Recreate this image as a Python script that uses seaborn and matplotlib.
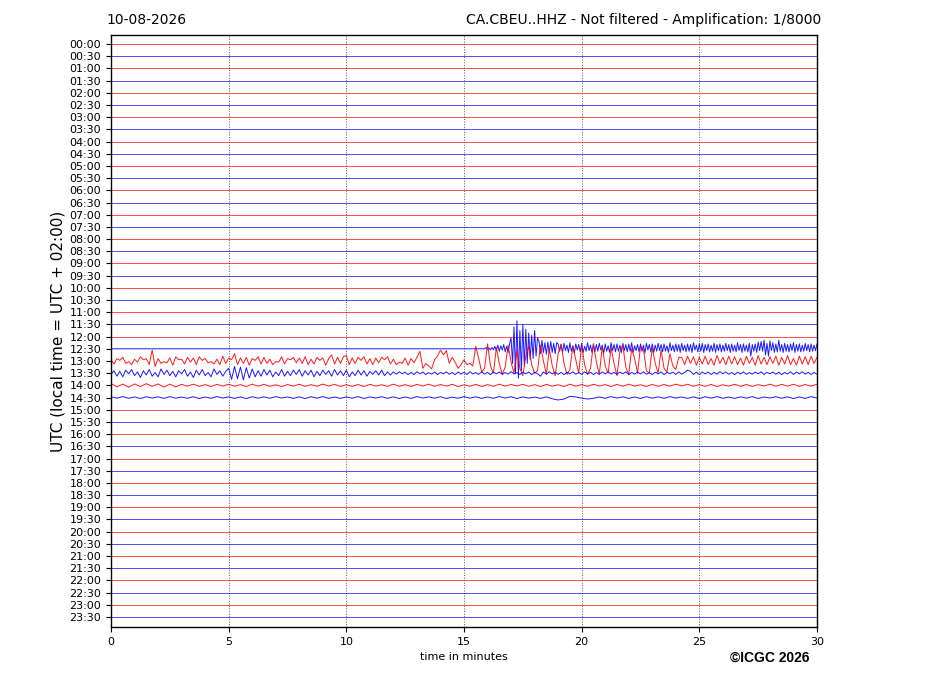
import numpy as np
import pandas as pd
import matplotlib
matplotlib.use("Agg")
import matplotlib.pyplot as plt
import seaborn as sns

# ---------------- data ----------------
date_label = "10-08-2026"
title_right = "CA.CBEU..HHZ - Not filtered - Amplification: 1/8000"
ylabel_text = "UTC (local time = UTC + 02:00)"
xlabel_text = "time in minutes"
copyright_text = "\u00a9ICGC 2026"

trace_labels = [f"{h:02d}:{m:02d}" for h in range(24) for m in (0, 30)]
trace_colors = ["#ff0000", "#0000ff"]          # alternate per trace
x_ticks = [0, 5, 10, 15, 20, 25, 30]
minutes_per_line = 30

# Active traces: amplitudes in hundredths of a trace spacing (positive = up)
# 12:30 (blue) starts at 15.875 min, step 0.0625 min
t25_start, t25_step = 15.875, 0.0625
t25_vals = [0, 10, -5, 8, -10, 12, -8,
            20, -15, 30, -20, 25, -10, 35, -25, 20, -30, 40,
            90, -120, 180, -200, 230, -240, 150, -180, 200, -140, 160, -120, 130, -90, 110, -80, 150, -60, 90,
            60, -40, 70, -30, 50, -45, 55, -35, 60, -30, 45, -40, 50,
            40, -20, 35, -25, 45, -15, 30, -30, 50, -20, 25, -35, 40, -10, 35, -25, 45, -30, 20, -20,
            50, -15, 30, -30, 40, -25, 35, -20, 45, -10, 30, -35, 40, -20, 25, -30, 50, -15, 35, -25,
            40, -20, 30, -30, 45, -15, 35, -25, 40, -20, 50, -30, 25, -15, 35, -25, 40, -20, 30, -35,
            45, -10, 35, -25, 40, -30, 30, -20, 45, -15, 35, -25, 40, -20, 25, -30, 50, -15, 30, -25,
            40, -20, 35, -30, 45, -15, 30, -25, 40, -20, 35, -30, 50, -10, 30, -25, 40, -20, 45, -30,
            35, -15, 40, -25, 30, -20, 45, -30, 35, -15,
            40, -25, 30, -20, 45, -15, 35, -30, 40, -20, 30, -25, 50, -15, 35, -30, 40, -20,
            30, -25, 45, -60, 35, -20, 40, -30, 55, -15,
            60, -20, 70, -50, 45, -60, 65, -15, 50, -30, 40, -25, 70, -20, 35, -30,
            45, -20, 35, -25, 40, -15, 50, -30, 35, -20, 40, -25, 30, -20, 45, -15, 35, -25, 40, -20, 30, -15, 40]

# 13:00 (red), step 0.125 min from 0
t26_step = 0.125
t26_vals = [10, -25, 20, 5, 30, -20, -5, -30, 15, -10, 35, 10, 20, -30,
            90, -45,
            20, -20, -5, -15, 25, -35, 35, 10, 15, -25, 30, -10, 25, -30, 35, 5, 20, -15, -5, -25, 15, -30, 40, -20, 25, 10,
            60, -30,
            25, -20, 30, -35, 20, 5, 35, -25, 30, -20, 15, -30, -5, -10, 35, -25, 20, 10, 30, -15, 25, -20, 35, -30, 15, -25, 30, 5, 25, -35, 20,
            50, -25, 30, -20, 35, 45, -30,
            25, -20, 30, 5, 35, -25, 20, -30, 25, -15, 30, 10, 35, -25, 15, -30, -10, -20, 25, -35, 20, -15,
            30, 80, -60, -20, -40, -65, 10, 40, 90, 50, 85, -20, 30, -10, -60, -30,
            10, -30, -20, -40,
            120, 20, -90, -60, 140, -40, -100, 110, -20, -110,
            -50, 130, -10, -100, 90, -60, -120, 40, 120, -30,
            -100, -80, 130, 0, -110, 100, -40, -120, 60, 140,
            -20, -110, -70, 120, 10, -100, 130, -30, -110, -60,
            140, -10, -110, 120, -40, -100, 110, -20, -120, 80,
            130, -50, -110, 100, 20, -100, 120,
            100, -80, -100, 110, -20, -100, 90, -60, -90, 60, -40, -70, 30,
            30, -30, 40, -20, 35, -35, 30, -25, 40, -30, 20, -35, 45, -20, 30, -30, 40, -25, 35, -30, 25, -35, 40, -20,
            30, -35, 45, -25, 30, -30, 35, -20, 40, -35, 30, -25, 45, -30, 20, -35, 40, -25, 35, -30, 40, -20, 30]

# 13:30 (blue), step 0.125 min from 0
t27_step = 0.125
t27_vals = [-10, 20, -25, 15, -30, 25, -5, 30, -20, 10, -35, 20, -15, 30, -25, 5, -30, 35, -10, 25,
            -20, 15, -30, 20, -5, 30, -25, 10, -35, 25, -15, 30, -20, 5, -30, 35, -10, 20, -25, 15,
            40, -50, 55, -45, 50, -55, 45, -40, 35, -30,
            20, -25, 30, -15, 25, -30, 10, -20, 30, -25, 15, -20, 25, -10, 30, -25, 20, -15, 25, -30, 15, -20, 25,
            -10, 20, -25, 30, -15, 20, -20, 25, -30, 10, -20, 25, -15, 20, -25, 15, -10, 20, -15, 25, -20, 10, -15,
            10, -8, 12, -5, 8, -12, 6, -10, 12, -6, 9, -11, 5, -8, 10, -12, 7, -5, 11, -9, 6, -12, 10, -7, 8,
            -10, 12, -6, 5, -9, 11, -8, 7, -12, 9, -5, 10, -10, 6, -8, 12, -7, 5, -11, 9, -6, 10, -12, 8, -5,
            -25, 10, -8, 12, -6, 9, -10, 7, -12, 8, -5, 11, -9, 6, -10, 12, -7, 8, -11, 5, -9, 10, -6, 12, -8,
            7, -10, 9, -5, 11, -12, 6, -8, 10, -7, 12, -9, 5, -11, 8, -6, 10, -12, 7, -5, 9, -10, 11, -8, 6,
            25, 15, -10, 8, -12, 10, -6, 9, -11, 7, -8, 12, -5, 10, -9, 6, -12, 8, -7, 11, -10, 5, -8, 9,
            -6, 12, -11, 7, -5, 10, -9, 8, -12, 6, -7, 11, -10, 9, -5, 12, -8, 7, -11, 6, -9]

# 14:00 (red), step 0.25 min
t28_step = 0.25
t28_vals = [15, -12, 10, -15, 12, -10, 14, -8, 12, -14, 10, -12,
            8, -6, 10, -8, 6, -10, 8, -5, 9, -7, 6, -9, 10, -6, 8, -8, 5, -10, 7, -6, 9, -8, 6, -7, 10, -5,
            8, -9, 6, -8, 7, -10, 9, -6, 5, -8, 10, -7, 6, -9, 8, -5, 10, -8, 7, -6, 9, -10, 5, -7, 8, -9,
            6, -8, 10, -6, 7, -5, 9, -8, 6, -10, 8, -7, 5, -9, 10, -6, 7, -8, 9, -5, 6, -10, 8, -7, 10, -6,
            5, -9, 8, -8, 7, -6, 10, -5, 9, -7, 6, -8, 8, -10, 5, -6, 9, -8, 7, -9, 6, -5, 10, -7, 8, -6, 9,
            -8, 7, -6, 9, -7, 8]

# 14:30 (blue), step 0.25 min
t29_step = 0.25
t29_vals = [6, -5, 8, -6, 5, -8, 7, -4, 6, -7, 8, -5, 4, -6, 7, -8, 5, -6, 8, -4, 6, -7, 5, -8, 7,
            -5, 6, -6, 8, -4, 5, -7, 6, -8, 7, -5, 8, -6, 4, -7, 6, -5, 8, -8, 5, -4, 7, -6, 6, -8,
            5, -7, 8, -4, 6, -5, 7, -8, 4, -6, 8, -5, 6, -7, 5, -6, 8, -4, 7, -8, 6, -5, 4, -7, 6,
            -10, -20, -12, 10, 5, -5, -12, -6,
            5, -6, 8, -4, 6, -7, 5, -8, 7, -5, 6, -6, 8, -4, 5, -7, 6, -8, 7, -5, 8, -6, 4, -7, 6,
            -5, 8, -8, 5, -4, 7, -6, 6, -8, 5, -7, 8, -4, 6, -5]

active = {
    25: (t25_start, t25_step, t25_vals),
    26: (0.0, t26_step, t26_vals),
    27: (0.0, t27_step, t27_vals),
    28: (0.0, t28_step, t28_vals),
    29: (0.0, t29_step, t29_vals),
}

# ---------------- plot ----------------
sns.set_style("ticks")
plt.rcParams["font.family"] = ["DejaVu Sans"]
for key in ("text.color", "axes.labelcolor", "xtick.color", "ytick.color", "axes.edgecolor"):
    plt.rcParams[key] = "black"

fig = plt.figure(figsize=(9.27, 6.96), dpi=100)
ax = fig.add_axes([111 / 927, 1 - 627 / 696, 706 / 927, 592 / 696])

for xv in x_ticks[1:-1]:
    ax.axvline(xv, color="#555555", linestyle=":", linewidth=0.7, zorder=0)

n = len(trace_labels)
for i, lab in enumerate(trace_labels):
    base = (n - 1) - i
    if i in active:
        t0, dt, vals = active[i]
        v = np.array(vals, dtype=float) / 100.0
        t = t0 + dt * np.arange(len(v))
        keep = t <= minutes_per_line + 1e-9
        t, v = t[keep], v[keep]
        if t0 > 0:
            t = np.concatenate([[0.0], t])
            v = np.concatenate([[0.0], v])
        lw, al = 0.7, 0.9
    else:
        t = np.array([0.0, minutes_per_line])
        v = np.array([0.0, 0.0])
        lw, al = 0.6, 0.8
    d = pd.DataFrame({"minute": t, "y": base + v})
    sns.lineplot(data=d, x="minute", y="y", color=trace_colors[i % 2],
                 estimator=None, sort=False, linewidth=lw, alpha=al, ax=ax)

ax.set_xlim(0, minutes_per_line)
ax.set_ylim(-0.82, n - 1 + 0.74)
ax.set_xticks(x_ticks)
ax.set_xticklabels([str(x) for x in x_ticks], fontsize=8)
ax.set_yticks([(n - 1) - i for i in range(n)])
ax.set_yticklabels(trace_labels, fontsize=8)
ax.tick_params(length=3.5, width=0.8, colors="black")
ax.set_xlabel(xlabel_text, fontsize=8)
ax.set_ylabel(ylabel_text, fontsize=11, labelpad=3)
for s in ax.spines.values():
    s.set_linewidth(1.0)
    s.set_color("black")

fig.text(106 / 927, 1 - 20 / 696, date_label, fontsize=10, va="center", ha="left")
fig.text(821 / 927, 1 - 20 / 696, title_right, fontsize=10, va="center", ha="right")
fig.text(770 / 927, 1 - 658 / 696, copyright_text, fontsize=10, fontweight="bold",
         family=["Liberation Sans", "DejaVu Sans"], va="center", ha="center")

fig.savefig("out.png", dpi=100)
